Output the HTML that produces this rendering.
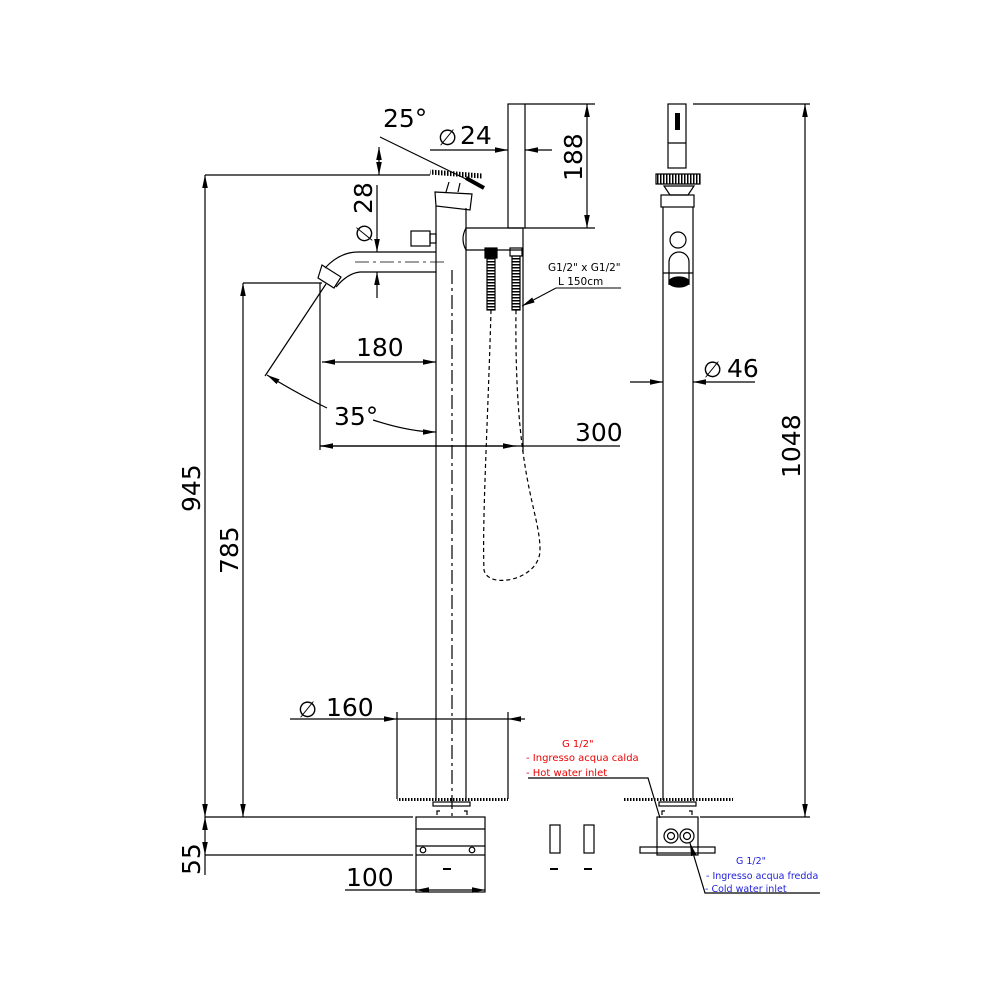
<!DOCTYPE html>
<html><head><style>body{margin:0;background:#fff}svg{display:block}
text{font-family:"DejaVu Sans","Liberation Sans",sans-serif}</style></head><body>
<svg width="1000" height="1000" viewBox="0 0 1000 1000" xmlns="http://www.w3.org/2000/svg">
<defs>
<marker id="a" viewBox="0 0 10 10" refX="10" refY="5" markerWidth="13" markerHeight="7" orient="auto-start-reverse" markerUnits="userSpaceOnUse" preserveAspectRatio="none"><path d="M0,1 L10,5 L0,9z" fill="#000"/></marker>
<pattern id="h" width="3" height="6" patternUnits="userSpaceOnUse"><rect width="1.5" height="6" fill="#000"/></pattern>
<pattern id="hz" width="6" height="3" patternUnits="userSpaceOnUse"><rect width="6" height="1.5" fill="#000"/></pattern>
</defs>
<g stroke="#000" stroke-width="1.2" fill="none">
<line x1="436" y1="206" x2="436" y2="800"/>
<line x1="466" y1="208" x2="466" y2="800"/>
<line x1="452" y1="270" x2="452" y2="820" stroke-dasharray="14,4,3,4"/>
<path d="M435,192 L472,194 L470,210 L436,206 Z"/>
<path d="M446,192 L449,182 M458,192 L460,183"/>
<path d="M430,172 L482,176" stroke-width="5" stroke="url(#h)"/>
<path d="M466,178 L484,188" stroke-width="4"/>
<rect x="411" y="231" width="19" height="15"/>
<rect x="430" y="234" width="6" height="9"/>
<path d="M436,252 L358,252 Q340,252 325,268 M436,272 L360,272 Q348,273 336,287"/>
<path d="M322,265 L341,277 L334,288 L318,278 Z"/>
<line x1="355" y1="262" x2="446" y2="262" stroke-dasharray="14,4,3,4" stroke-width="0.8"/>
<path d="M466,228 L523,228 L523,250 L466,250 Q460,239 466,228"/>
<rect x="508" y="104" width="17" height="124"/>
<rect x="485" y="248" width="12" height="10" fill="#000"/>
<rect x="487" y="258" width="8" height="52" fill="url(#hz)"/>
<rect x="510" y="248" width="12" height="8"/>
<rect x="512" y="256" width="8" height="54" fill="url(#hz)"/>
<path d="M491,310 C488,420 482,520 484,570 C488,590 540,580 540,550 C540,510 514,480 516,310" stroke-dasharray="4,3"/>
<line x1="205" y1="175" x2="430" y2="175"/>
<line x1="380" y1="137" x2="468" y2="180"/>
<line x1="379" y1="147" x2="379" y2="175" marker-start="url(#a)" marker-end="url(#a)"/>
<line x1="430" y1="150" x2="508" y2="150" marker-end="url(#a)"/>
<line x1="525" y1="150" x2="552" y2="150" marker-start="url(#a)"/>
<line x1="525" y1="104" x2="595" y2="104"/>
<line x1="525" y1="228" x2="595" y2="228"/>
<line x1="587" y1="104" x2="587" y2="228" marker-start="url(#a)" marker-end="url(#a)"/>
<line x1="377" y1="185" x2="377" y2="252" marker-end="url(#a)"/>
<line x1="377" y1="272" x2="377" y2="298" marker-start="url(#a)"/>
<line x1="205" y1="175" x2="205" y2="817" marker-start="url(#a)" marker-end="url(#a)"/>
<line x1="243" y1="283" x2="322" y2="283"/>
<line x1="243" y1="283" x2="243" y2="817" marker-start="url(#a)" marker-end="url(#a)"/>
<line x1="205" y1="817" x2="413" y2="817"/>
<line x1="205" y1="855" x2="413" y2="855"/>
<line x1="205" y1="817" x2="205" y2="855" marker-start="url(#a)" marker-end="url(#a)"/>
<line x1="205" y1="855" x2="205" y2="875"/>
<line x1="320" y1="283" x2="320" y2="450"/>
<line x1="523" y1="250" x2="523" y2="452"/>
<line x1="322" y1="362" x2="436" y2="362" marker-start="url(#a)" marker-end="url(#a)"/>
<line x1="320" y1="446" x2="620" y2="446"/>
<line x1="320" y1="446" x2="516" y2="446" marker-start="url(#a)" marker-end="url(#a)"/>
<line x1="326" y1="284" x2="265" y2="376"/>
<path d="M267,375 Q300,395 327,408" marker-start="url(#a)"/>
<path d="M373,420 Q410,432 436,432" marker-end="url(#a)"/>
<line x1="290" y1="719" x2="397" y2="719" marker-end="url(#a)"/>
<line x1="508" y1="719" x2="525" y2="719" marker-start="url(#a)"/>
<line x1="397" y1="719" x2="508" y2="719"/>
<line x1="397" y1="712" x2="397" y2="799"/>
<line x1="508" y1="712" x2="508" y2="799"/>
<rect x="397" y="798" width="111" height="3" fill="url(#h)" stroke="none"/>
<rect x="433" y="802" width="37" height="4"/>
<path d="M437,815 v-4 h3 M464,811 h3 v4"/>
<rect x="416" y="817" width="69" height="75"/>
<line x1="416" y1="829" x2="485" y2="829"/>
<line x1="416" y1="846" x2="485" y2="846"/>
<line x1="416" y1="855" x2="485" y2="855"/>
<circle cx="423" cy="850" r="2.8"/><circle cx="472" cy="850" r="2.8"/>
<line x1="443" y1="869" x2="451" y2="869" stroke-width="2"/>
<line x1="345" y1="890" x2="416" y2="890"/>
<line x1="416" y1="890" x2="485" y2="890" marker-start="url(#a)" marker-end="url(#a)"/>
<rect x="550" y="825" width="10" height="28"/><rect x="584" y="825" width="10" height="28"/>
<line x1="550" y1="869" x2="558" y2="869" stroke-width="2"/><line x1="584" y1="869" x2="592" y2="869" stroke-width="2"/>
<path d="M528,778 L648,778 L660,818"/>
<rect x="668" y="104" width="18" height="64"/>
<rect x="675" y="113" width="5" height="17" fill="#000" stroke="none"/>
<line x1="668" y1="143" x2="686" y2="143"/>
<path d="M656,174 L700,174 L700,184 L656,184 Z" fill="url(#h)"/>
<path d="M664,186 L694,186 L688,195 L670,195 Z"/>
<rect x="661" y="195" width="33" height="12"/>
<line x1="663" y1="207" x2="663" y2="800"/>
<line x1="693" y1="207" x2="693" y2="800"/>
<circle cx="678" cy="240" r="8"/>
<path d="M669,285 L669,262 A10,10 0 0 1 689,262 L689,285"/>
<line x1="663" y1="273" x2="693" y2="273"/>
<ellipse cx="679" cy="282" rx="10" ry="5" fill="#000"/>
<line x1="630" y1="382" x2="663" y2="382" marker-end="url(#a)"/>
<line x1="693" y1="382" x2="755" y2="382" marker-start="url(#a)"/>
<line x1="693" y1="104" x2="810" y2="104"/>
<line x1="700" y1="817" x2="810" y2="817"/>
<line x1="805" y1="104" x2="805" y2="817" marker-start="url(#a)" marker-end="url(#a)"/>
<rect x="623" y="798" width="110" height="3" fill="url(#h)" stroke="none"/>
<rect x="659" y="802" width="37" height="4"/>
<path d="M662,815 v-4 h3 M689,811 h3 v4"/>
<rect x="657" y="817" width="41" height="38"/>
<rect x="640" y="847" width="75" height="6"/>
<circle cx="671" cy="836" r="7"/><circle cx="671" cy="836" r="3.5"/>
<circle cx="687" cy="836" r="7"/><circle cx="687" cy="836" r="3.5"/>
<path d="M820,893 L705,893 L690,843" marker-end="url(#a)"/>
</g>
<path d="M556,288 L621,288 M556,288 L522,306" stroke="#000" stroke-width="1" fill="none" marker-end="url(#a)"/>
<g font-size="25" fill="#000">
<text x="383" y="127">25°</text>
<text x="460" y="144">24</text>
<text x="438" y="145" font-size="22">∅</text>
<text x="356" y="356">180</text>
<text x="334" y="425">35°</text>
<text x="575" y="441">300</text>
<text x="326" y="716">160</text>
<text x="298" y="717" font-size="22">∅</text>
<text x="346" y="886">100</text>
<text x="727" y="377">46</text>
<text x="703" y="377" font-size="22">∅</text>
<text transform="translate(582,181) rotate(-90)">188</text>
<text transform="translate(372,214) rotate(-90)">28</text>
<text transform="translate(372,243) rotate(-90)" font-size="22">∅</text>
<text transform="translate(200,512) rotate(-90)">945</text>
<text transform="translate(238,574) rotate(-90)">785</text>
<text transform="translate(200,875) rotate(-90)">55</text>
<text transform="translate(800,478) rotate(-90)">1048</text>
</g>
<g font-size="10.5" fill="#000">
<text x="548" y="271">G1/2" x G1/2"</text>
<text x="558" y="285">L 150cm</text>
</g>
<g font-size="10" fill="#e00">
<text x="562" y="747">G 1/2"</text>
<text x="526" y="761">- Ingresso acqua calda</text>
<text x="526" y="776">- Hot water inlet</text>
</g>
<g font-size="9.5" fill="#22d">
<text x="736" y="864">G 1/2"</text>
<text x="706" y="879">- Ingresso acqua fredda</text>
<text x="705" y="892">- Cold water inlet</text>
</g>
</svg>
</body></html>
